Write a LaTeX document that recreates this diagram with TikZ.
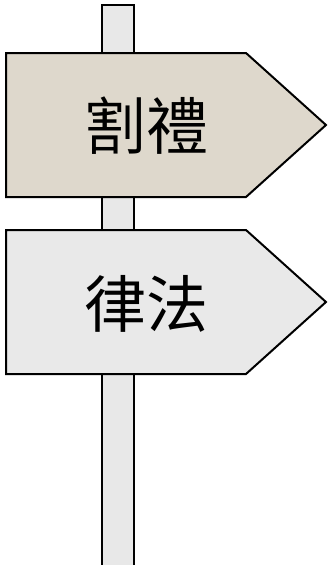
\documentclass[tikz,border=0pt]{standalone}
\usepackage{fontspec}
\newfontfamily\cjk{Noto Sans CJK TC}
\definecolor{signbeige}{HTML}{DED8CC}
\definecolor{signgrey}{HTML}{E9E9E9}
\definecolor{polegrey}{HTML}{E8E8E8}
\tikzset{
  edge/.style={draw=black, line width=2pt, line join=miter},
  label/.style={font=\cjk\fontsize{62}{62}\selectfont, inner sep=0pt}
}

\begin{document}
\begin{tikzpicture}[x=1pt,y=-1pt]
\useasboundingbox (0,0) rectangle (328,565);
% pole
\fill[polegrey] (102,5) rectangle (134,565);
\draw[edge] (102,566) -- (102,5) -- (134,5) -- (134,566);
% upper sign
\draw[edge, fill=signbeige] (6,53) -- (246,53) -- (326,125) -- (246,197) -- (6,197) -- cycle;
\node[label] (circ) at (146,126) {割禮};
% lower sign
\draw[edge, fill=signgrey] (6,230) -- (246,230) -- (326,302) -- (246,374) -- (6,374) -- cycle;
\node[label] (law) at (146,304) {律法};
\end{tikzpicture}
\end{document}
